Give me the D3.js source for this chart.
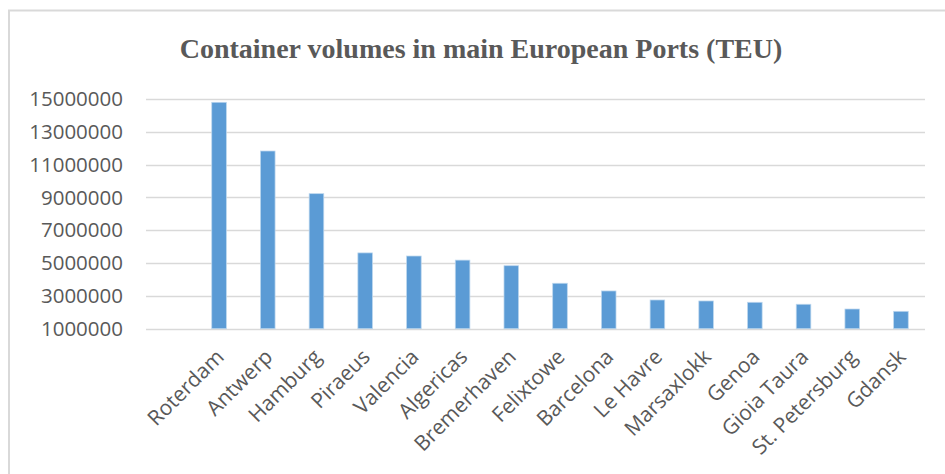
<!DOCTYPE html>
<html>
<head>
<meta charset="utf-8">
<script src="https://cdn.jsdelivr.net/npm/d3@7"></script>
<style>
  body { margin: 0; background: #fff; }
  text { fill: #595959; }
</style>
</head>
<body>
<div class="layout"></div>
<script>
var ports = ["Roterdam", "Antwerp", "Hamburg", "Piraeus", "Valencia", "Algericas",
    "Bremerhaven", "Felixtowe", "Barcelona", "Le Havre", "Marsaxlokk", "Genoa",
    "Gioia Taura", "St. Petersburg", "Gdansk"];
var teu = [14800000, 11830000, 9230000, 5620000, 5430000, 5180000,
    4840000, 3770000, 3300000, 2750000, 2690000, 2610000,
    2490000, 2200000, 2060000];
var yTicks = [1000000, 3000000, 5000000, 7000000, 9000000, 11000000, 13000000, 15000000];

var width = 945, height = 474;

var svg = d3.select(".layout").append("svg")
    .attr("width", width)
    .attr("height", height);

// chart frame (only top and left edges visible)
svg.append("path")
    .attr("d", "M9,474V10.5H945")
    .attr("fill", "none")
    .attr("stroke", "#d9d9d9")
    .attr("stroke-width", 2);

svg.append("text")
    .attr("x", 481)
    .attr("y", 58)
    .attr("text-anchor", "middle")
    .style("font-family", "'Liberation Serif', serif")
    .style("font-weight", "bold")
    .style("font-size", "28px")
    .text("Container volumes in main European Ports (TEU)");

var x = d3.scaleBand()
    .domain(ports)
    .range([194.7, 925.3])
    .paddingInner(0.7)
    .paddingOuter(0.35);

var y = d3.scaleLinear()
    .domain([1000000, 15000000])
    .range([328.7, 99]);

// gridlines
svg.append("g")
    .selectAll("line")
    .data(yTicks)
    .enter().append("line")
    .attr("x1", 146)
    .attr("x2", 925)
    .attr("y1", function(d) { return Math.round(y(d)) + 0.5; })
    .attr("y2", function(d) { return Math.round(y(d)) + 0.5; })
    .attr("stroke", "#d9d9d9")
    .attr("stroke-width", 1.5);

var yAxis = d3.axisLeft(y)
    .tickValues(yTicks)
    .tickFormat(d3.format("d"))
    .tickSize(0)
    .tickPadding(0);

svg.append("g")
    .attr("class", "y axis")
    .attr("transform", "translate(123,0)")
    .call(yAxis)
    .call(function(g) { g.select(".domain").remove(); })
    .selectAll("text")
    .style("font-family", "'Open Sans', sans-serif")
    .style("font-size", "20.5px")
    .attr("fill", "#595959");

svg.append("g")
    .attr("class", "bars")
    .selectAll("rect")
    .data(teu)
    .enter().append("rect")
    .attr("x", function(d, i) { return x(ports[i]); })
    .attr("width", x.bandwidth())
    .attr("y", function(d) { return y(d); })
    .attr("height", function(d) { return y(1000000) - y(d); })
    .attr("fill", "#5b9bd5")
    .attr("stroke", "#bdd7ee")
    .attr("stroke-width", 0.75);

// x labels, rotated -45deg
svg.append("g")
    .attr("class", "x labels")
    .selectAll("text")
    .data(ports)
    .enter().append("text")
    .attr("transform", function(d) {
        return "translate(" + (x(d) + x.bandwidth() / 2 - 5) + ",347) rotate(-45)";
    })
    .attr("text-anchor", "end")
    .attr("dy", "0.75em")
    .style("font-family", "'Open Sans', sans-serif")
    .style("font-size", "21px")
    .text(function(d) { return d; });
</script>
</body>
</html>
